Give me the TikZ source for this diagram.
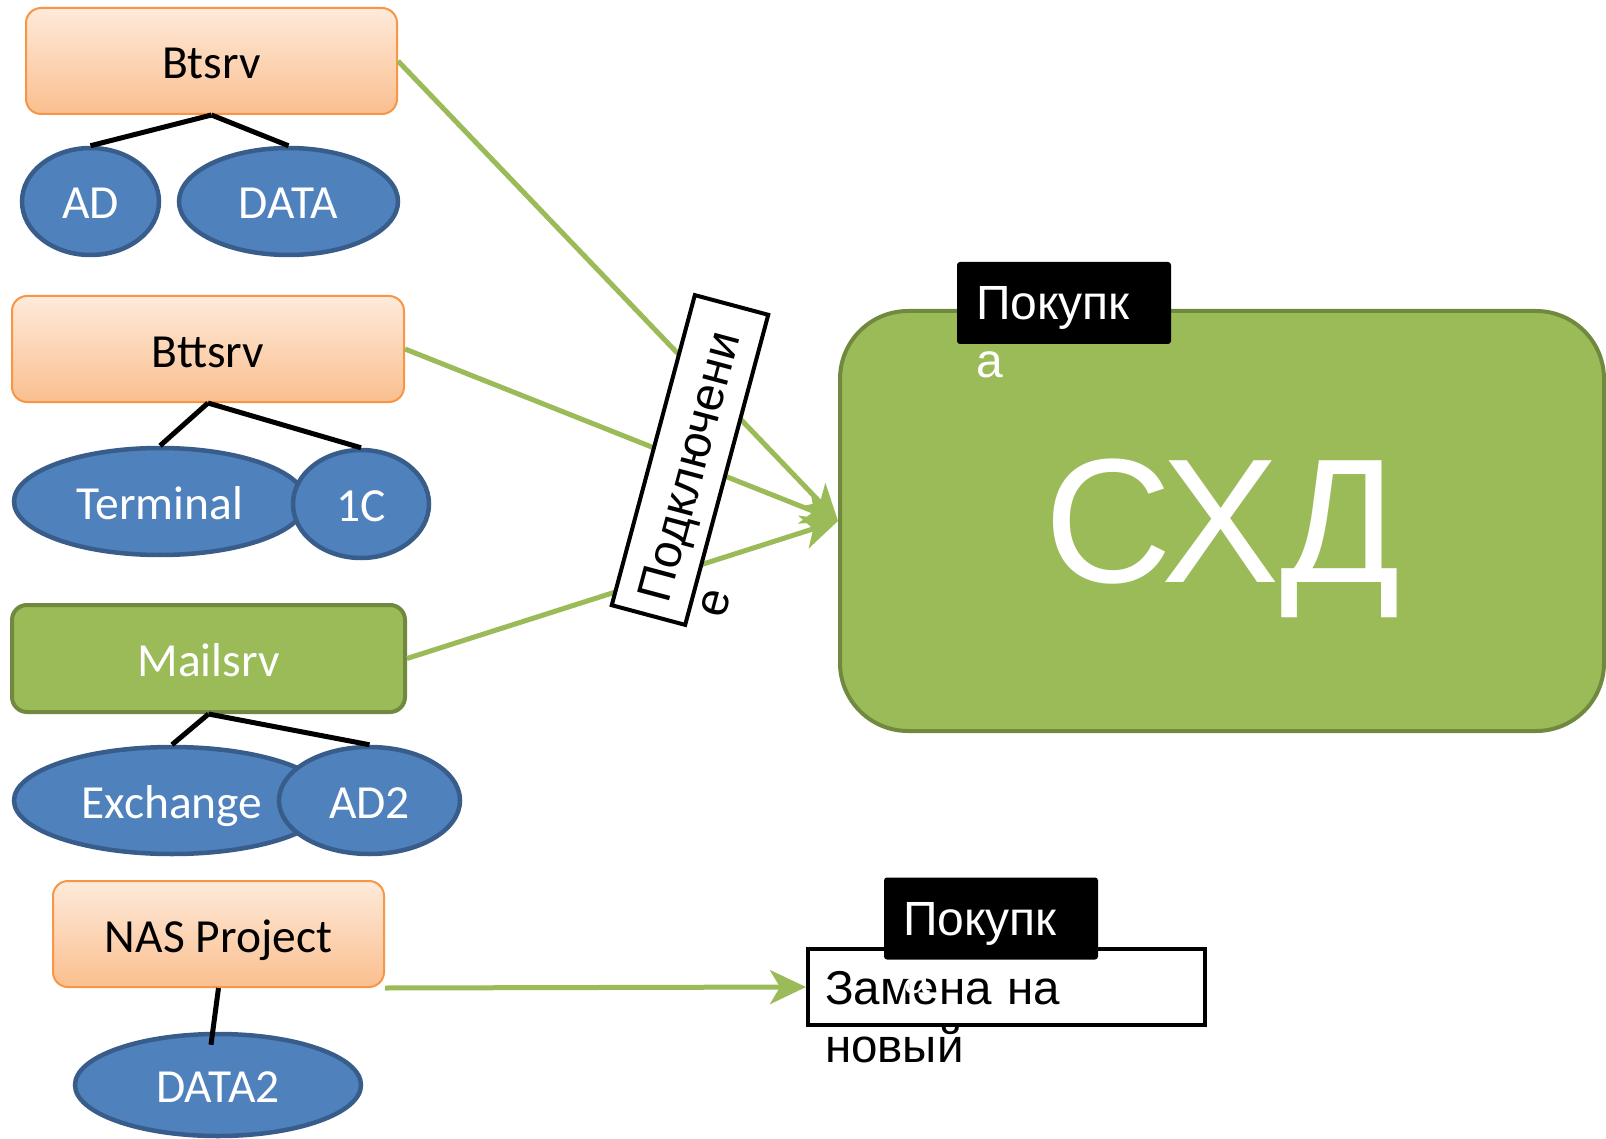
\documentclass[tikz,border=0pt]{standalone}
\usepackage{fontspec}
\setmainfont{Liberation Sans}
\newfontfamily\calibri{Carlito}
\usetikzlibrary{shapes.geometric,arrows.meta}
\definecolor{leafgreen}{RGB}{155,187,89}
\definecolor{leafdark}{RGB}{113,137,63}
\definecolor{peachtop}{RGB}{254,234,218}
\definecolor{peachbot}{RGB}{250,191,143}
\definecolor{peachline}{RGB}{247,150,70}
\definecolor{diskblue}{RGB}{79,129,189}
\definecolor{diskline}{RGB}{56,93,138}
\tikzset{>={Stealth[length=36pt,width=34pt,inset=10pt]}}
\tikzset{
    server/.style={rectangle, rounded corners=15pt, draw=peachline, line width=2pt, top color=peachtop, bottom color=peachbot, minimum height=106pt, font=\calibri\fontsize{47.5}{57}\selectfont, text height=36pt, text depth=0pt},
    mailbox/.style={rectangle, rounded corners=15pt, draw=leafdark, line width=4pt, fill=leafgreen, text=white, minimum height=107pt, font=\calibri\fontsize{47.5}{57}\selectfont, text height=36pt, text depth=0pt},
    disk/.style={ellipse, draw=diskline, line width=4.5pt, fill=diskblue, text=white, inner sep=0pt, minimum height=107pt, font=\calibri\fontsize{47.5}{57}\selectfont, text height=35pt, text depth=0pt},
    branch/.style={line width=5pt, black},
    link/.style={->, draw=leafgreen, line width=5pt},
    tagbox/.style={rectangle, fill=black, text=white, rounded corners=3pt, minimum height=82pt, inner xsep=19pt, text width=176pt, align=left, font=\fontsize{48}{58}\selectfont, text height=34pt, text depth=0pt},
    notebox/.style={rectangle, draw=black, line width=4pt, fill=white, minimum height=76pt, align=left, font=\fontsize{47.5}{58}\selectfont, text height=34pt, text depth=0pt}
}
\begin{document}
\begin{tikzpicture}[x=1pt,y=-1pt]
    \useasboundingbox (0,0) rectangle (1606,1139);
    \clip (0,0) rectangle (1606,1139);
    \node[server, minimum width=371pt] (btsrv) at (211.5,61) {Btsrv};
    \node[disk, minimum width=137pt] (ad) at (90.5,201.5) {AD};
    \node[disk, minimum width=219pt] (data) at (288.5,201.5) {DATA};
    \node[server, minimum width=392pt] (bttsrv) at (208,349) {Bttsrv};
    \node[disk, minimum width=292pt] (terminal) at (160,501.5) {Terminal};
    \node[disk, minimum width=136pt, minimum height=108pt] (onec) at (361,504) {1C};
    \node[mailbox, minimum width=393pt] (mailsrv) at (208.5,658.5) {Mailsrv};
    \node[disk, minimum width=316pt] (exchange) at (172,800.5) {Exchange};
    \node[disk, minimum width=181pt] (adtwo) at (369.5,800.5) {AD2};
    \node[server, minimum width=331pt] (nas) at (218.5,934) {NAS Project};
    \node[disk, minimum width=286pt, minimum height=102pt] (datatwo) at (218,1085) {DATA2};
    \node[rectangle, rounded corners=68pt, draw=leafdark, line width=4pt, fill=leafgreen, text=white,
        minimum width=764pt, minimum height=420pt, font=\fontsize{177}{200}\selectfont, text depth=0pt] (sxd) at (1222,521) {СХД};
    \node[notebox, inner xsep=17pt, text width=363pt] (repl) at (1006.5,987) {Замена на\\новый};
    \draw[branch] (btsrv.south) -- (ad.north);
    \draw[branch] (btsrv.south) -- (data.north);
    \draw[branch] (bttsrv.south) -- (terminal.north);
    \draw[branch] (bttsrv.south) -- (onec.north);
    \draw[branch] (mailsrv.south) -- (exchange.north);
    \draw[branch] (mailsrv.south) -- (adtwo.north);
    \draw[branch] (nas.south) -- ([xshift=-7pt,yshift=-13pt]datatwo.north);
    \draw[link] (btsrv.east) -- (sxd.west);
    \draw[link] (bttsrv.east) -- (sxd.west);
    \draw[link] (mailsrv.east) -- (sxd.west);
    \draw[link] (nas.south east) -- (repl.west);
    \node[notebox, rotate=75, inner xsep=15pt, text width=291pt, font=\fontsize{48}{58}\selectfont] (conn) at (690,460) {Подключени\\е};
    \node[tagbox] (buyone) at (1064,303) {Покупк\\а};
    \node[tagbox] (buytwo) at (991,918.5) {Покупк\\а};
\end{tikzpicture}
\end{document}
